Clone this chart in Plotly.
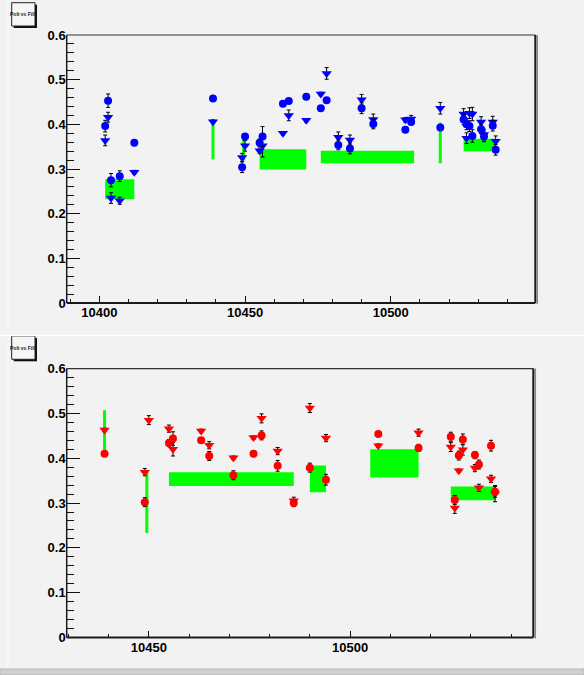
import plotly.graph_objects as go

W, H = 584, 675

# ---------------- upper pad (blue) ----------------
top_fill = [10402, 10403, 10404, 10407, 10412, 10439, 10449, 10450, 10455, 10456,
            10463, 10465, 10471, 10476, 10478, 10482, 10486, 10490, 10494, 10505,
            10507, 10517, 10525, 10526, 10527, 10528, 10531, 10532, 10535, 10536]
top_circ = [0.396, 0.453, 0.275, 0.284, 0.359, 0.458, 0.304, 0.373, 0.359, 0.373,
            0.446, 0.452, 0.462, 0.436, 0.454, 0.354, 0.346, 0.436, 0.401, 0.388,
            0.405, 0.393, 0.411, 0.400, 0.396, 0.374, 0.389, 0.373, 0.397, 0.343]
top_circ_err = [0.013, 0.015, 0.015, 0.012, 0.005, 0.004, 0.012, 0.006, 0.008, 0.022,
                0.004, 0.005, 0.004, 0.004, 0.005, 0.011, 0.012, 0.012, 0.011, 0.005,
                0.006, 0.005, 0.012, 0.012, 0.012, 0.014, 0.010, 0.012, 0.012, 0.012]
top_tri = [0.364, 0.416, 0.235, 0.229, 0.293, 0.406, 0.326, 0.352, 0.341, 0.352,
           0.380, 0.420, 0.409, 0.468, 0.514, 0.371, 0.365, 0.455, 0.411, 0.410,
           0.412, 0.436, 0.423, 0.369, 0.425, 0.423, 0.405, 0.377, 0.405, 0.362]
top_tri_err = [0.012, 0.011, 0.012, 0.008, 0.004, 0.004, 0.009, 0.012, 0.006, 0.025,
               0.004, 0.012, 0.004, 0.004, 0.013, 0.012, 0.011, 0.012, 0.012, 0.005,
               0.008, 0.013, 0.012, 0.012, 0.012, 0.015, 0.012, 0.012, 0.013, 0.012]
# averaged bands: first fill, last fill, low, high
top_band_x0 = [10402, 10439, 10449.5, 10455, 10476, 10517, 10525]
top_band_x1 = [10412, 10439, 10449.5, 10471, 10508, 10517, 10536]
top_band_lo = [0.232, 0.321, 0.319, 0.299, 0.313, 0.313, 0.340]
top_band_hi = [0.277, 0.406, 0.377, 0.344, 0.341, 0.404, 0.368]

# ---------------- lower pad (red) ----------------
bot_fill = [10439, 10449, 10450, 10455, 10456, 10463, 10465, 10471, 10476, 10478,
            10482, 10486, 10490, 10494, 10507, 10517, 10525, 10526, 10527, 10528,
            10531, 10532, 10535, 10536]
bot_circ = [0.410, 0.302, None, 0.434, 0.444, 0.440, 0.405, 0.362, 0.410, 0.451,
            0.383, 0.300, 0.379, 0.352, 0.454, 0.423, 0.448, 0.307, 0.406, 0.442,
            0.407, 0.386, 0.428, 0.325]
bot_circ_err = [0.004, 0.010, 0.0, 0.008, 0.015, 0.004, 0.010, 0.010, 0.004, 0.010,
                0.012, 0.008, 0.010, 0.012, 0.004, 0.008, 0.010, 0.010, 0.010, 0.012,
                0.008, 0.010, 0.012, 0.012]
bot_tri = [0.463, 0.369, 0.485, 0.466, 0.420, 0.461, 0.429, 0.401, 0.446, 0.489,
           0.416, 0.305, 0.512, 0.445, 0.428, 0.457, 0.425, 0.289, 0.372, 0.419,
           0.378, 0.334, 0.354, 0.321]
bot_tri_err = [0.004, 0.008, 0.010, 0.008, 0.015, 0.004, 0.008, 0.004, 0.004, 0.010,
               0.008, 0.008, 0.010, 0.008, 0.004, 0.008, 0.010, 0.012, 0.004, 0.012,
               0.008, 0.008, 0.008, 0.018]
bot_band_x0 = [10439, 10449.5, 10455, 10490, 10505, 10525]
bot_band_x1 = [10439, 10449.5, 10486, 10494, 10517, 10536]
bot_band_lo = [0.410, 0.233, 0.338, 0.324, 0.357, 0.306]
bot_band_hi = [0.507, 0.369, 0.369, 0.384, 0.420, 0.337]

title_text = "Polt vs Fill"
BG = "#f2f2f2"
GREEN = "#00ff00"


def px(x):
    return x / W


def py(y):
    return 1 - y / H


fig = go.Figure()


def add_bands(x0s, x1s, los, his, xa, ya):
    for x0, x1, lo, hi in zip(x0s, x1s, los, his):
        fig.add_trace(go.Scatter(
            x=[x0, x1, x1, x0, x0], y=[lo, lo, hi, hi, lo],
            mode="lines", fill="toself", fillcolor=GREEN,
            line=dict(color=GREEN, width=3 if x0 == x1 else 0),
            xaxis=xa, yaxis=ya, hoverinfo="skip", showlegend=False))


def add_points(xs, ys, errs, color, symbol, size, xa, ya):
    fig.add_trace(go.Scatter(
        x=xs, y=ys, mode="markers",
        marker=dict(color=color, symbol=symbol, size=size, line=dict(width=0)),
        error_y=dict(type="data", array=errs, visible=True,
                     color="black", thickness=1, width=2),
        xaxis=xa, yaxis=ya, showlegend=False))


add_bands(top_band_x0, top_band_x1, top_band_lo, top_band_hi, "x", "y")
add_points(top_fill, top_tri, top_tri_err, "#0000ff", "triangle-down", 9, "x", "y")
add_points(top_fill, top_circ, top_circ_err, "#0000ff", "circle", 8, "x", "y")

add_bands(bot_band_x0, bot_band_x1, bot_band_lo, bot_band_hi, "x2", "y2")
add_points(bot_fill, bot_tri, bot_tri_err, "#ff0000", "triangle-down", 9, "x2", "y2")
add_points(bot_fill, bot_circ, bot_circ_err, "#ff0000", "circle", 8, "x2", "y2")

tick_font = dict(family="Liberation Sans, Arial, sans-serif", size=13,
                 color="black", weight="bold")

# frame geometry (pixels)
top_box = dict(l=66.7, r=535.3, t=35.0, b=303.0)
bot_box = dict(l=66.7, r=533.3, t=368.6, b=637.5)


def xaxis_cfg(box, rng):
    return dict(domain=[px(box["l"]), px(box["r"])], range=rng,
                showgrid=False, zeroline=False, showline=False, automargin=False,
                ticks="inside", ticklen=7, tickwidth=1, tickcolor="#111",
                dtick=50, tick0=10400, tickformat="d", tickfont=tick_font,
                minor=dict(ticks="inside", ticklen=4, dtick=10, tick0=10400,
                           tickcolor="#111", tickwidth=1, showgrid=False),
                fixedrange=True)


def yaxis_cfg(box, anchor):
    return dict(domain=[py(box["b"]), py(box["t"])], range=[0, 0.6],
                anchor=anchor, showgrid=False, zeroline=False, showline=False,
                automargin=False,
                ticks="inside", ticklen=13, tickwidth=1, tickcolor="#111",
                dtick=0.1, tick0=0, tickfont=tick_font,
                minor=dict(ticks="inside", ticklen=7, dtick=0.02, tick0=0,
                           tickcolor="#111", tickwidth=1, showgrid=False),
                fixedrange=True)


xa1 = xaxis_cfg(top_box, [10388.8, 10549.6])
xa1["anchor"] = "y"
xa2 = xaxis_cfg(bot_box, [10429.6, 10545.5])
xa2["anchor"] = "y2"

shapes = []


def frame(box):
    l, r, t, b = px(box["l"]), px(box["r"]), py(box["t"]), py(box["b"])
    # left and top thin edges
    shapes.append(dict(type="line", xref="paper", yref="paper", x0=l, x1=l,
                       y0=b, y1=t, line=dict(color="#1a1a1a", width=1.5), layer="above"))
    shapes.append(dict(type="line", xref="paper", yref="paper", x0=l, x1=r,
                       y0=t, y1=t, line=dict(color="#333333", width=1.2), layer="above"))
    # right and bottom heavier edges with a grey shadow
    shapes.append(dict(type="line", xref="paper", yref="paper", x0=px(box["r"] + 2),
                       x1=px(box["r"] + 2), y0=py(box["b"] + 1), y1=t,
                       line=dict(color="#8a8a8a", width=1.5), layer="above"))
    shapes.append(dict(type="line", xref="paper", yref="paper", x0=r, x1=r,
                       y0=b, y1=t, line=dict(color="#1a1a1a", width=2), layer="above"))
    shapes.append(dict(type="line", xref="paper", yref="paper", x0=l, x1=r,
                       y0=b, y1=b, line=dict(color="#1a1a1a", width=2.2), layer="above"))


frame(top_box)
frame(bot_box)

annotations = []


def title_box(x0, y0, x1, y1):
    # drop shadow then the box itself
    shapes.append(dict(type="rect", xref="paper", yref="paper",
                       x0=px(x0 + 2), x1=px(x1 + 2), y0=py(y1 + 2), y1=py(y0 + 2),
                       fillcolor="#111111", line=dict(width=0), layer="above"))
    shapes.append(dict(type="rect", xref="paper", yref="paper",
                       x0=px(x0), x1=px(x1), y0=py(y1), y1=py(y0),
                       fillcolor="#f6f6f6", line=dict(color="#222222", width=1),
                       layer="above"))
    annotations.append(dict(text=title_text, xref="paper", yref="paper",
                            x=px((x0 + x1) / 2), y=py((y0 + y1) / 2),
                            showarrow=False, xanchor="center", yanchor="middle",
                            font=dict(family="Liberation Sans, Arial, sans-serif",
                                      size=5, color="#202020", weight="bold")))


title_box(11.7, 2.7, 35.0, 26.0)
title_box(11.7, 336.0, 35.0, 359.3)

# pad borders
shapes.append(dict(type="line", xref="paper", yref="paper", x0=0, x1=1,
                   y0=py(335.5), y1=py(335.5), line=dict(color="#ffffff", width=1.5)))
shapes.append(dict(type="line", xref="paper", yref="paper", x0=px(8), x1=px(8),
                   y0=py(334), y1=py(0), line=dict(color="#fbfbfb", width=1)))
shapes.append(dict(type="line", xref="paper", yref="paper", x0=px(8), x1=px(8),
                   y0=py(668), y1=py(337), line=dict(color="#fbfbfb", width=1)))
shapes.append(dict(type="rect", xref="paper", yref="paper", x0=0, x1=1,
                   y0=0, y1=py(669), fillcolor="#d0d0d0",
                   line=dict(color="#b4b4b4", width=1)))

fig.update_layout(
    width=W, height=H,
    margin=dict(l=0, r=0, t=0, b=0, autoexpand=False),
    paper_bgcolor=BG, plot_bgcolor=BG,
    xaxis=xa1, yaxis=yaxis_cfg(top_box, "x"),
    xaxis2=xa2, yaxis2=yaxis_cfg(bot_box, "x2"),
    shapes=shapes, annotations=annotations,
    showlegend=False,
)

fig.write_html("out.html", config={"displayModeBar": False})
